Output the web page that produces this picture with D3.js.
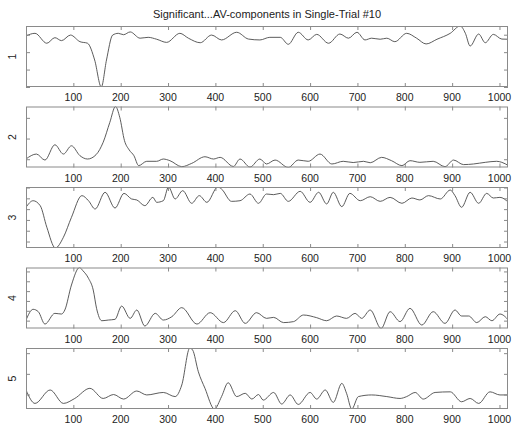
<!DOCTYPE html>
<html>
<head>
<meta charset="utf-8">
<script src="https://cdn.jsdelivr.net/npm/d3@7"></script>
<style>
  body { margin: 0; background: #fff; }
  svg text { font-family: "Liberation Sans", Arial, sans-serif; fill: #222; }
</style>
</head>
<body>
<div id="chart"></div>
<script>
const title = 'Significant...AV-components in Single-Trial #10';
const xTicks = [100, 200, 300, 400, 500, 600, 700, 800, 900, 1000];
const panelNames = ['1', '2', '3', '4', '5'];

// [sample, value] pairs (turning points of each trace)
const comp1 = [[0,-0.07],[19,0.08],[44,-0.49],[61,-0.17],[75,-0.34],[94,-0.02],[114,-0.4],[130,-0.49],
  [145,-1.45],[159,-3],[170,-1.45],[183,-0.02],[195,0.08],[206,0],[220,0.16],[241,-0.2],[258,-0.15],
  [276,-0.26],[297,-0.44],[325,0.08],[343,-0.2],[368,-0.46],[392,-0.02],[413,-0.3],[445,0.14],
  [470,-0.25],[494,-0.3],[515,-0.15],[537,-0.15],[554,-0.55],[575,0.14],[596,-0.3],[614,0.02],
  [639,-0.49],[663,0.04],[681,-0.2],[699,0.14],[716,-0.3],[730,-0.2],[748,-0.26],[762,-0.2],
  [779,-0.4],[804,0.08],[825,-0.2],[845,-0.53],[868,-0.26],[896,0.08],[917,0.5],[928,0.08],
  [938,-0.65],[956,0.04],[970,-0.46],[987,0.02],[1005,-0.25],[1019,-0.26]];
const comp2 = [[0,0.01],[22,0.25],[40,-0.04],[61,0.7],[79,0.25],[96,0.65],[114,0.17],[130,0.01],
  [148,0.22],[163,0.82],[177,1.78],[189,2.55],[198,2.03],[208,0.9],[218,0.45],[228,0.17],[238,-0.31],
  [255,-0.1],[276,-0.1],[290,0.01],[304,-0.07],[329,-0.36],[350,-0.2],[378,0.12],[396,0.01],
  [410,0.09],[438,-0.35],[452,0.01],[473,-0.38],[494,0.01],[508,-0.23],[526,-0.04],[554,-0.4],
  [575,-0.04],[596,-0.1],[621,0.25],[646,-0.23],[670,-0.1],[691,-0.16],[713,-0.1],[727,-0.17],
  [751,0.09],[772,-0.07],[794,-0.31],[811,-0.07],[832,-0.15],[860,-0.1],[885,-0.36],[903,-0.04],
  [924,-0.26],[945,-0.23],[970,-0.15],[994,-0.1],[1005,-0.15],[1019,-0.31]];
const comp3 = [[0,-0.83],[15,-0.22],[30,-0.68],[44,-2.68],[62,-4.6],[79,-3.61],[96,-1.76],[118,0.25],
  [132,-0.22],[146,-0.99],[167,0.56],[188,-0.9],[207,0.46],[223,-0.06],[234,-0.15],[251,-0.68],
  [268,0.09],[276,-0.37],[290,-0.22],[301,1.05],[315,-0.06],[331,0.71],[350,-0.46],[366,0.25],
  [382,-0.37],[405,1.05],[413,0.86],[434,-0.28],[452,-0.22],[473,0.4],[491,-0.46],[508,0.4],
  [523,0.34],[537,0.46],[554,-0.28],[579,0.65],[600,-0.37],[618,0.56],[635,-0.52],[649,0.56],
  [667,-0.77],[684,0.46],[706,-0.22],[727,0.15],[748,-0.28],[769,0.09],[794,-0.46],[815,0.03],
  [832,-0.15],[850,0.25],[875,-0.06],[896,0.77],[906,0.25],[920,-0.83],[938,0.56],[956,-0.46],
  [973,0.46],[987,0.03],[1001,0.09],[1019,-0.37]];
const comp4 = [[0,0.06],[15,1.15],[26,0.91],[40,-0.35],[61,0.74],[75,0.67],[82,1.08],[96,3.62],
  [113,5.4],[120,5.08],[132,4.3],[142,3.11],[149,1.25],[160,-0.01],[174,0.06],[188,0.13],[202,1.48],
  [220,0.23],[234,1.08],[251,-0.55],[273,0.74],[290,0.06],[308,0.4],[329,1.32],[361,-0.35],
  [389,0.81],[417,-0.2],[442,1.01],[463,-0.28],[487,0.81],[508,0.23],[523,0.33],[544,-0.2],
  [565,-0.1],[586,0.57],[614,0.3],[635,-0.01],[656,0.47],[677,0.23],[695,0.74],[709,0.23],
  [727,1.08],[750,-0.8],[769,0.91],[790,-0.1],[811,1.25],[836,-0.45],[860,0.91],[885,-0.28],
  [906,1.08],[920,0.47],[935,0.47],[952,-0.2],[970,0.4],[984,-0.01],[1001,0.67],[1019,0.06]];
const comp5 = [[0,0.22],[19,-0.43],[51,0.22],[79,-0.43],[103,-0.19],[135,0.3],[163,-0.19],[185,0],
  [206,-0.22],[234,0.17],[255,-0.02],[290,0.1],[315,-0.1],[329,0.46],[346,2.25],[352,2.15],
  [364,1.1],[378,0.3],[398,-0.7],[413,-0.1],[427,0.57],[445,-0.1],[463,0.06],[477,-0.22],[491,0],
  [501,-0.27],[523,0.1],[540,-0.46],[558,-0.02],[575,-0.48],[600,0.1],[614,-0.22],[632,0.22],
  [649,-0.38],[667,0.54],[677,0.06],[688,-0.7],[702,-0.1],[730,-0.02],[762,-0.1],[790,-0.19],
  [804,-0.1],[822,0.1],[839,-0.22],[864,0.1],[896,0.13],[920,-0.35],[938,-0.19],[956,-0.43],
  [980,0.13],[1001,-0.02],[1019,-0.02]];
const components = [comp1, comp2, comp3, comp4, comp5];

// y-ranges and y-ticks per panel (tick labels are hidden in the original)
const yDomains = [[-3, 0.5], [-0.4, 2.55], [-4.6, 1.05], [-0.8, 5.4], [-0.7, 2.25]];
const yTickVals = [[-3, -2, -1, 0], [0, 1, 2], [-4, -3, -2, -1, 0, 1], [0, 1, 2, 3, 4, 5], [0, 1, 2]];

const W = 515, H = 425;
const left = 26, right = 508, top0 = 26, panelH = 61, step = 80.5;

const svg = d3.select('#chart').append('svg')
    .attr('width', W)
    .attr('height', H);

svg.append('text')
    .attr('x', (left + right) / 2)
    .attr('y', 18)
    .attr('text-anchor', 'middle')
    .style('font-size', '11px')
    .text(title);

const x = d3.scaleLinear()
    .domain([0, 1018])
    .range([left, right]);

const boxColour = '#8a8a8a';

components.forEach((data, i) => {
  const top = top0 + i * step;
  const y = d3.scaleLinear()
      .domain(yDomains[i])
      .range([top + panelH, top]);

  const g = svg.append('g').attr('class', 'panel');

  g.append('clipPath')
      .attr('id', 'clip' + i)
    .append('rect')
      .attr('x', left).attr('y', top)
      .attr('width', right - left).attr('height', panelH);

  const line = d3.line()
      .x(d => x(d[0]))
      .y(d => y(d[1]))
      .curve(d3.curveMonotoneX);

  g.append('path')
      .datum(data)
      .attr('clip-path', 'url(#clip' + i + ')')
      .attr('d', line)
      .style('fill', 'none')
      .style('stroke', '#4a4a4a')
      .style('stroke-width', 0.9);

  // inward ticks on all four sides
  const axes = [
    [d3.axisBottom(x).tickValues(xTicks).tickSize(-4).tickFormat(''), 'translate(0,' + (top + panelH) + ')'],
    [d3.axisTop(x).tickValues(xTicks).tickSize(-4).tickFormat(''), 'translate(0,' + top + ')'],
    [d3.axisLeft(y).tickValues(yTickVals[i]).tickSize(-4).tickFormat(''), 'translate(' + left + ',0)'],
    [d3.axisRight(y).tickValues(yTickVals[i]).tickSize(-4).tickFormat(''), 'translate(' + right + ',0)']
  ];
  axes.forEach(a => {
    const ax = g.append('g').attr('transform', a[1]).call(a[0]);
    ax.select('.domain').remove();
    ax.selectAll('line').style('stroke', boxColour);
  });

  g.append('rect')
      .attr('x', left + 0.5).attr('y', top + 0.5)
      .attr('width', right - left - 1).attr('height', panelH - 1)
      .style('fill', 'none')
      .style('stroke', boxColour)
      .style('stroke-width', 1);

  g.selectAll('.xlab')
      .data(xTicks)
    .enter().append('text')
      .attr('class', 'xlab')
      .attr('x', d => x(d))
      .attr('y', top + panelH + 14)
      .attr('text-anchor', 'middle')
      .style('font-size', '10.5px')
      .text(d => d);

  g.append('text')
      .attr('transform', 'translate(16,' + (top + panelH / 2) + ') rotate(-90)')
      .attr('text-anchor', 'middle')
      .style('font-size', '10.5px')
      .text(panelNames[i]);
});
</script>
</body>
</html>
